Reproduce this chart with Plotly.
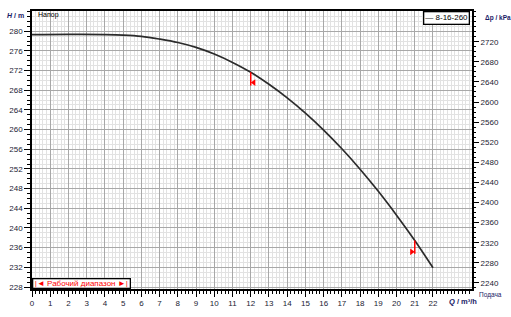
import numpy as np
import plotly.graph_objects as go

# Data
Q = [0, 2, 4, 5, 6, 7, 8, 9, 10, 11, 12, 13, 14, 15, 16, 17, 18, 19, 20, 21, 22]
H = [279.3, 279.35, 279.3, 279.2, 278.95, 278.4, 277.7, 276.7, 275.35, 273.65, 271.65,
     269.2, 266.45, 263.35, 259.9, 256.1, 251.95, 247.45, 242.6, 237.45, 231.9]
work_q = [12, 21]
series_name = "8-16-260"
x_ticks = list(range(0, 23))
y_ticks = list(range(228, 281, 4))
kpa_ticks = list(range(2240, 2721, 40))
RHO_G = 9.789  # kPa per m

h_range = [227.6, 284.1]
q_range = [0, 24.14]

fig = go.Figure()
fig.add_trace(go.Scatter(x=Q, y=H, mode="lines", line=dict(color="#2b2b2b", width=1.7, shape="spline", smoothing=1.0),
                         showlegend=False, hoverinfo="skip"))

red = "#ff0000"
for i, q in enumerate(work_q):
    h = float(np.interp(q, Q, H))
    fig.add_trace(go.Scatter(x=[q, q], y=[h, h - 2.7], mode="lines", line=dict(color=red, width=1.5),
                             showlegend=False, hoverinfo="skip"))
    if i == 0:
        fig.add_trace(go.Scatter(x=[q + 0.17], y=[h - 2.1], mode="markers",
                                 marker=dict(symbol="triangle-left", size=6, color=red),
                                 showlegend=False, hoverinfo="skip"))
    else:
        fig.add_trace(go.Scatter(x=[q - 0.17], y=[h - 2.3], mode="markers",
                                 marker=dict(symbol="triangle-right", size=6, color=red),
                                 showlegend=False, hoverinfo="skip"))

# dummy trace for right axis
fig.add_trace(go.Scatter(x=[None], y=[None], yaxis="y2", showlegend=False))

tickfont = dict(family="Liberation Sans, Arial", size=8, color="#222233")
fig.update_layout(
    width=511, height=317,
    margin=dict(l=31, r=39, t=9, b=21),
    paper_bgcolor="white", plot_bgcolor="white",
    xaxis=dict(range=q_range, tickvals=x_ticks, ticks="outside", ticklen=6, tickcolor="black",
               tickfont=tickfont, showgrid=True, gridcolor="#a8a8a8", gridwidth=1, dtick=1,
               showline=True, linecolor="black", linewidth=1.5, mirror=True, zeroline=False,
               minor=dict(dtick=0.2, ticks="outside", ticklen=3, tickcolor="black",
                          showgrid=True, gridcolor="#e2e2e2", gridwidth=1)),
    yaxis=dict(range=h_range, tickvals=y_ticks, ticks="outside", ticklen=6, tickcolor="black",
               tickfont=tickfont, showgrid=True, gridcolor="#a8a8a8", gridwidth=1, dtick=4,
               showline=True, linecolor="black", linewidth=1.5, mirror=True, zeroline=False,
               minor=dict(dtick=1, ticks="outside", ticklen=3, tickcolor="black",
                          showgrid=True, gridcolor="#e2e2e2", gridwidth=1)),
    yaxis2=dict(range=[h_range[0] * RHO_G, h_range[1] * RHO_G], overlaying="y", side="right",
                tickvals=kpa_ticks, ticks="outside", ticklen=6, tickcolor="black",
                tickfont=tickfont, showgrid=False, zeroline=False, showline=False,
                minor=dict(dtick=10, ticks="outside", ticklen=3, tickcolor="black", showgrid=False)),
    showlegend=False,
)

annots = [
    dict(text="<b><i>H</i> / m</b>", x=4, y=303, xanchor="left", yanchor="middle",
         font=dict(family="Liberation Sans, Arial", size=7, color="#1a1a66")),
    dict(text="<b>Δp / kPa</b>", x=483, y=301, xanchor="left", yanchor="middle",
         font=dict(family="Liberation Sans, Arial", size=6.5, color="#1a1a66")),
    dict(text="<b><i>Q</i> / m³/h</b>", x=463, y=8, xanchor="center", yanchor="middle",
         font=dict(family="Liberation Sans, Arial", size=7.5, color="#1a1a66")),
    dict(text="Подача", x=477, y=15, xanchor="left", yanchor="middle",
         font=dict(family="Liberation Sans, Arial", size=6.5, color="#1a1a66")),
    dict(text="Напор", x=35, y=304, xanchor="left", yanchor="middle",
         font=dict(family="Liberation Sans, Arial", size=7, color="black")),
]
for a in annots:
    a2 = dict(a)
    # convert pixel coordinates to paper coordinates
    a2["x"] = (a["x"] - 31) / (511 - 31 - 39)
    a2["y"] = (a["y"] - 21) / (317 - 21 - 9)
    a2["xref"] = "paper"; a2["yref"] = "paper"
    a2["showarrow"] = False
    fig.add_annotation(**a2)

# legend box for the series (top right)
fig.add_annotation(text="— " + series_name, x=0.995, y=1, xref="paper", yref="paper", xanchor="right", yanchor="top",
                   showarrow=False, bgcolor="white", bordercolor="black", borderwidth=1.3, borderpad=1,
                   font=dict(family="Liberation Sans, Arial", size=8, color="black"))
# working range box (bottom left)
fig.add_annotation(text="|◄ Рабочий диапазон ►|", x=0, y=0, xref="paper", yref="paper", xanchor="left", yanchor="bottom",
                   showarrow=False, bgcolor="white", bordercolor="black", borderwidth=1.3, borderpad=0,
                   width=96, height=8,
                   font=dict(family="Liberation Sans, Arial", size=8, color=red))

fig.write_html("out.html")
